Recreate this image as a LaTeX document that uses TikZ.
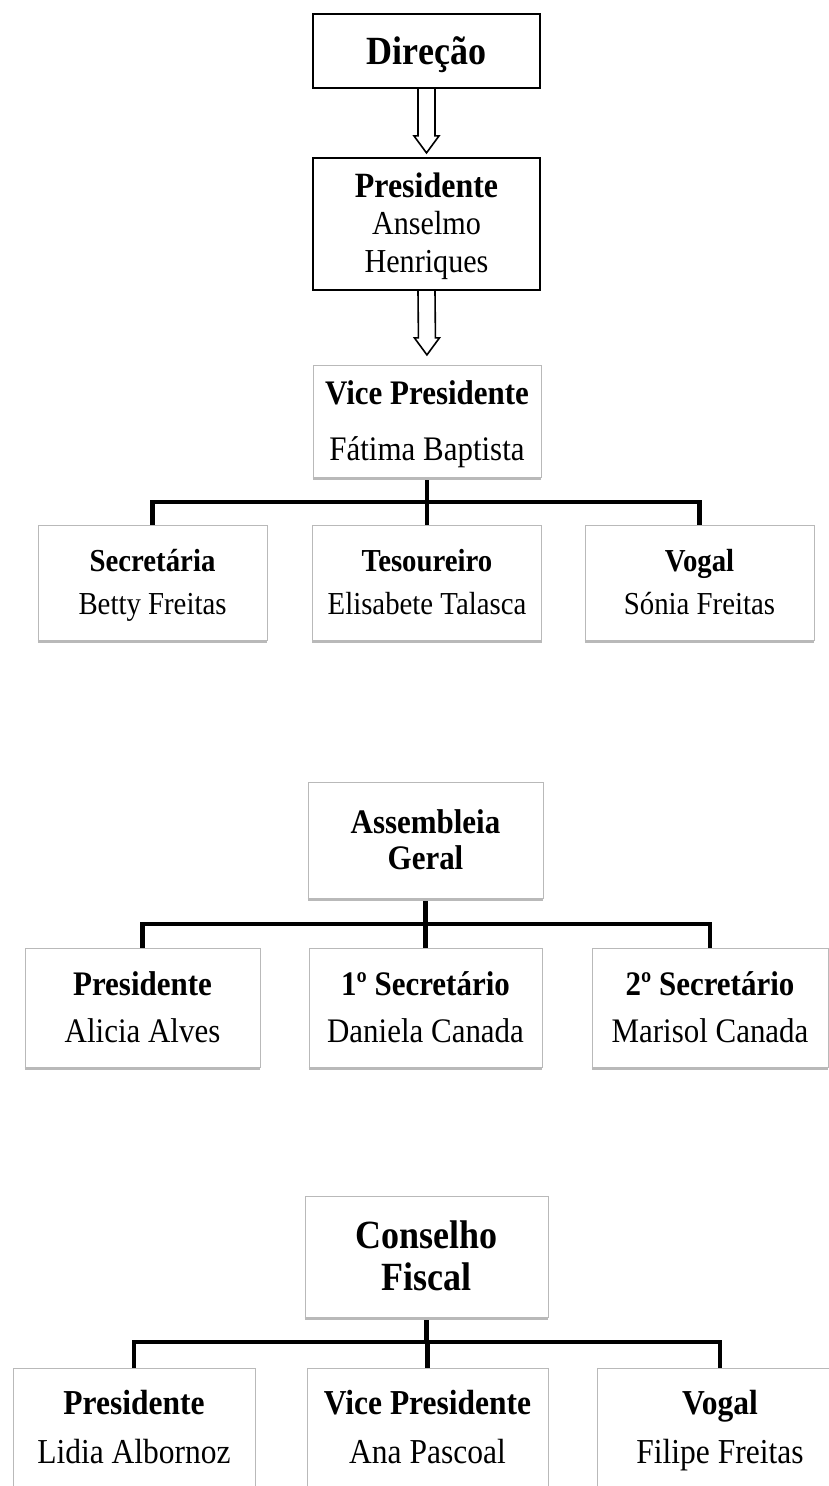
\documentclass[tikz,border=0pt]{standalone}
\usepackage{fontspec}
\setmainfont{Liberation Serif}[FakeStretch=0.9]
\usetikzlibrary{calc}

% hollow double-line arrow between two stacked boxes
\newcommand{\hollowarrow}[2]{%
  \coordinate (tip) at ($(#1.south)!64pt!(#2.north)$);
  \draw[hollow] ($(#1.south)+(-8.5,0)$) -- ($(tip)+(-8.5,17)$) -- ($(tip)+(-12.5,17)$)
    -- (tip) -- ($(tip)+(12.5,17)$) -- ($(tip)+(8.5,17)$) -- ($(#1.south)+(8.5,0)$);
}
% struts so that every box centres its text the same way
\newcommand{\topstrut}{\rule{0pt}{0.95em}}
\newcommand{\botstrut}{\rule[-0.3em]{0pt}{0.3em}}
% bold title over a name
\newcommand{\cardtext}[2]{\topstrut\textbf{#1}\\#2\botstrut}

\begin{document}
\begin{tikzpicture}[
  x=1pt, y=1pt,
  every node/.style = {align=center, inner sep=0pt},
  headbox/.style = {draw=black, line width=1.8pt, minimum width=227pt},
  card/.style = {draw=gray!55, line width=0.9pt},
  row1/.style = {card, minimum width=229pt, minimum height=115pt, font=\fontsize{32}{43}\selectfont},
  row2/.style = {card, minimum width=235pt, minimum height=119pt, font=\fontsize{34.4}{47}\selectfont},
  row3/.style = {card, minimum width=242pt, minimum height=120pt, font=\fontsize{35}{49}\selectfont},
  conn/.style = {line width=4.5pt, line join=miter},
  hollow/.style = {line width=1.6pt, line join=miter},
  shadowline/.style = {draw=gray!55, line width=3pt}
]
\useasboundingbox (0,0) rectangle (828,-1486);

% Direcao
\node[headbox, minimum height=74pt, font=\bfseries\fontsize{40}{44}\selectfont] (direcao) at (426.5,-51) {\topstrut Direção\botstrut};
\node[headbox, minimum height=132pt, font=\fontsize{33.5}{37.5}\selectfont] (presidente) at (426.5,-224)
  {\topstrut{\fontsize{35.5}{37.5}\selectfont\bfseries Presidente}\\Anselmo\\Henriques\botstrut};
\node[card, minimum width=228pt, minimum height=112pt, font=\fontsize{34.4}{56}\selectfont] (vice) at (427,-421)
  {\cardtext{Vice Presidente}{Fátima Baptista}};

\node[row1] (sec) at (152.5,-582.5) {\cardtext{Secretária}{Betty Freitas}};
\node[row1] (tes) at (427,-582.5) {\cardtext{Tesoureiro}{Elisabete Talasca}};
\node[row1] (vog) at (699.5,-582.5) {\cardtext{Vogal}{Sónia Freitas}};

\hollowarrow{direcao}{presidente}
\hollowarrow{presidente}{vice}

\coordinate (bus1) at (0,-502);
\draw[conn] (vice.south) -- (vice.south |- bus1);
\draw[conn] (sec.north) -- (sec.north |- bus1) -- (vog.north |- bus1) -- (vog.north);
\draw[conn] (tes.north) -- (tes.north |- bus1);

% Assembleia Geral
\node[card, minimum width=235pt, minimum height=116pt, font=\bfseries\fontsize{34.4}{36}\selectfont] (assembleia) at (425.5,-840)
  {\topstrut Assembleia\\Geral\botstrut};
\node[row2] (agpres) at (142.5,-1007.5) {\cardtext{Presidente}{Alicia Alves}};
\node[row2, minimum width=233pt] (agsec1) at (425.5,-1007.5) {\cardtext{1º Secretário}{Daniela Canada}};
\node[row2, minimum width=236pt] (agsec2) at (710,-1007.5) {\cardtext{2º Secretário}{Marisol Canada}};

\coordinate (bus2) at (0,-924);
\draw[conn] (assembleia.south) -- (assembleia.south |- bus2);
\draw[conn] (agpres.north) -- (agpres.north |- bus2) -- (agsec2.north |- bus2) -- (agsec2.north);
\draw[conn] (agsec1.north) -- (agsec1.north |- bus2);

% Conselho Fiscal
\node[card, minimum width=243pt, minimum height=121pt, font=\bfseries\fontsize{40}{42}\selectfont] (conselho) at (426.5,-1256.5)
  {\topstrut Conselho\\Fiscal\botstrut};
\node[row3] (cfpres) at (134,-1428) {\cardtext{Presidente}{Lidia Albornoz}};
\node[row3, minimum width=241pt] (cfvice) at (427.5,-1428) {\cardtext{Vice Presidente}{Ana Pascoal}};
\node[row3, minimum width=246pt] (cfvogal) at (720,-1428) {\cardtext{Vogal}{Filipe Freitas}};

\coordinate (bus3) at (0,-1342);
\draw[conn] (conselho.south) -- (conselho.south |- bus3);
\draw[conn] (cfpres.north) -- (cfpres.north |- bus3) -- (cfvogal.north |- bus3) -- (cfvogal.north);
\draw[conn] (cfvice.north) -- (cfvice.north |- bus3);

% bottom shade of the grey cards
\foreach \b in {vice, sec, tes, vog, assembleia, agpres, agsec1, agsec2, conselho}
  \draw[shadowline] ($(\b.south west)+(0,-1)$) -- ($(\b.south east)+(0,-1)$);

\end{tikzpicture}
\end{document}
